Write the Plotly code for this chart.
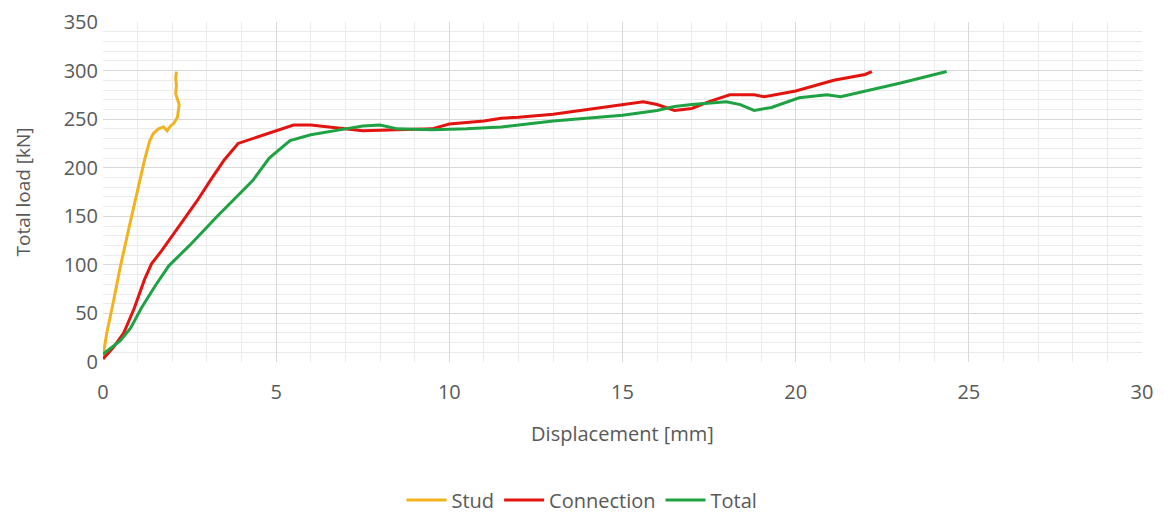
import plotly.graph_objects as go

stud_x = [0, 0.1, 0.3, 0.5, 0.75, 1.0, 1.2, 1.35, 1.45, 1.6, 1.75, 1.85, 1.95, 2.05, 2.15, 2.2, 2.15, 2.1, 2.12, 2.1, 2.12]
stud_y = [5, 28, 62, 98, 138, 178, 208, 228, 235, 240, 242, 238, 243, 246, 252, 265, 270, 276, 285, 292, 299]

conn_x = [0, 0.3, 0.6, 0.9, 1.2, 1.35, 1.4, 1.7, 2.2, 2.7, 3.1, 3.5, 3.9, 4.5, 5.0, 5.5, 6.0, 6.5, 7.5, 8.5, 9.5,
          10.0, 11.0, 11.5, 12.0, 13.0, 14.0, 15.0, 15.6, 16.0, 16.5, 17.0, 17.5, 18.1, 18.8, 19.1, 20.0, 21.1, 22.0, 22.2]
conn_y = [3, 15, 30, 55, 85, 97, 101, 115, 140, 165, 187, 208, 225, 232, 238, 244, 244, 242, 238, 239, 240,
          245, 248, 251, 252, 255, 260, 265, 268, 265, 259, 261, 268, 275, 275, 273, 279, 290, 296, 299]

tot_x = [0, 0.5, 0.8, 1.1, 1.5, 1.85, 1.9, 2.5, 3.3, 4.33, 4.8, 5.4, 6.0, 7.0, 7.5, 8.0, 8.5, 9.5, 10.5, 11.5,
         13.0, 15.0, 16.0, 16.5, 17.0, 18.0, 18.4, 18.8, 19.3, 20.1, 20.9, 21.3, 23.0, 24.36]
tot_y = [8, 22, 35, 55, 78, 96, 99, 120, 150, 187, 210, 228, 234, 240, 243, 244, 240, 239, 240, 242,
         248, 254, 259, 263, 265, 268, 265, 259, 262, 272, 275, 273, 287, 299]

x_ticks = [0, 5, 10, 15, 20, 25, 30]
y_ticks = [0, 50, 100, 150, 200, 250, 300, 350]

fig = go.Figure()
fig.add_trace(go.Scatter(x=stud_x, y=stud_y, mode="lines", name="Stud",
                         line=dict(color="#F2B31E", width=3)))
fig.add_trace(go.Scatter(x=conn_x, y=conn_y, mode="lines", name="Connection",
                         line=dict(color="#E3140F", width=3)))
fig.add_trace(go.Scatter(x=tot_x, y=tot_y, mode="lines", name="Total",
                         line=dict(color="#1FA243", width=3)))

font_family = "Open Sans, Liberation Sans, sans-serif"
fig.update_layout(
    width=1164, height=515,
    margin=dict(l=103, r=22, t=22, b=153, autoexpand=False),
    paper_bgcolor="white", plot_bgcolor="white",
    font=dict(family=font_family, color="#595959", size=20),
    legend=dict(orientation="h", xref="container", yref="container",
                x=0.5, xanchor="center", y=1 - 500 / 515, yanchor="middle",
                font=dict(size=20, color="#595959"), tracegroupgap=0, itemwidth=40),
    xaxis=dict(range=[0, 30], tickvals=x_ticks, showline=False, zeroline=False,
               gridcolor="#D9D9D9", gridwidth=1,
               minor=dict(dtick=1, showgrid=True, gridcolor="#EBEBEB", gridwidth=1),
               tickfont=dict(size=20), ticks="", ticklabelstandoff=16,
               title=dict(text="Displacement [mm]", font=dict(size=20), standoff=22)),
    yaxis=dict(range=[0, 350], tickvals=y_ticks, showline=False, zeroline=False,
               gridcolor="#D9D9D9", gridwidth=1,
               minor=dict(dtick=10, showgrid=True, gridcolor="#EBEBEB", gridwidth=1),
               tickfont=dict(size=20), ticks="", ticklabelstandoff=4,
               title=dict(text="Total load [kN]", font=dict(size=19), standoff=28)),
)
fig.write_html("out.html")
